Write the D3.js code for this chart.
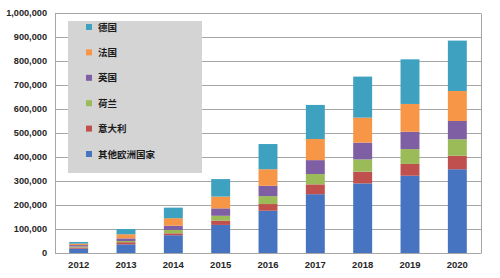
<!DOCTYPE html>
<html>
<head>
<meta charset="utf-8">
<script src="https://cdn.jsdelivr.net/npm/d3@7"></script>
<style>
  body { margin: 0; background: #fff; }
  svg text { font-family: "Liberation Sans", Arial, "Noto Sans CJK SC", sans-serif; }
</style>
</head>
<body>
<div id="container"></div>
<script>
"use strict";

const years = ["2012", "2013", "2014", "2015", "2016", "2017", "2018", "2019", "2020"];
const seriesNames = ["其他欧洲国家", "意大利", "荷兰", "英国", "法国", "德国"];
const seriesColors = ["#4674c1", "#c0504d", "#9bbb59", "#7f5fa4", "#f79646", "#3ea1c0"];

// values in thousands, bottom to top
const otherEurope = [18, 36, 74, 117, 176, 245, 290, 322, 349];
const italy = [5, 9, 8, 18, 28, 41, 49, 49, 56];
const netherlands = [4, 5, 14, 20, 33, 43, 51, 62, 69];
const uk = [6, 11, 18, 31, 43, 58, 70, 72, 76];
const france = [6, 17, 31, 49, 69, 88, 104, 116, 125];
const germany = [7, 22, 44, 73, 105, 142, 171, 186, 210];

const yTicks = [0, 100000, 200000, 300000, 400000, 500000, 600000, 700000, 800000, 900000, 1000000];

const width = 500;
const height = 278;
const margin = { top: 13, right: 19, bottom: 25, left: 55 };

const seriesValues = [otherEurope, italy, netherlands, uk, france, germany];

const rows = years.map((year, i) => {
  const row = { year };
  seriesNames.forEach((name, s) => { row[name] = seriesValues[s][i] * 1000; });
  return row;
});

const stacked = d3.stack().keys(seriesNames)(rows);

const svg = d3
  .select("#container")
  .append("svg")
  .attr("width", width)
  .attr("height", height);

const x = d3
  .scaleBand()
  .domain(years)
  .range([margin.left, width - margin.right])
  .paddingInner(0.6)
  .paddingOuter(0.3);

const y = d3
  .scaleLinear()
  .domain([0, 1000000])
  .range([height - margin.bottom, margin.top]);

// gridlines
svg
  .append("g")
  .selectAll("line")
  .data(yTicks)
  .enter()
  .append("line")
  .attr("x1", margin.left)
  .attr("x2", width - margin.right)
  .attr("y1", d => Math.round(y(d)) + 0.5)
  .attr("y2", d => Math.round(y(d)) + 0.5)
  .style("stroke", "#a6a6a6")
  .style("stroke-width", 1);

// frame sides
svg
  .append("g")
  .selectAll("line")
  .data([margin.left, width - margin.right])
  .enter()
  .append("line")
  .attr("x1", d => d + 0.5)
  .attr("x2", d => d + 0.5)
  .attr("y1", Math.round(y(1000000)) + 0.5)
  .attr("y2", Math.round(y(0)) + 0.5)
  .style("stroke", "#a6a6a6")
  .style("stroke-width", 1);

// bars
svg
  .append("g")
  .selectAll("g")
  .data(stacked)
  .enter()
  .append("g")
  .attr("fill", (d, i) => seriesColors[i])
  .selectAll("rect")
  .data(d => d)
  .enter()
  .append("rect")
  .attr("x", d => x(d.data.year))
  .attr("y", d => y(d[1]))
  .attr("width", x.bandwidth())
  .attr("height", d => y(d[0]) - y(d[1]));

// y axis labels
const yAxis = d3
  .axisLeft(y)
  .tickValues(yTicks)
  .tickSize(0)
  .tickPadding(8)
  .tickFormat(d3.format(","));

svg
  .append("g")
  .attr("transform", `translate(${margin.left}, 0)`)
  .call(yAxis)
  .call(g => g.select(".domain").remove())
  .selectAll("text")
  .style("font-size", "9.2px")
  .style("font-weight", "bold")
  .style("fill", "#262626");

// x axis labels
const xAxis = d3.axisBottom(x).tickSize(0).tickPadding(8);

svg
  .append("g")
  .attr("transform", `translate(0, ${height - margin.bottom})`)
  .call(xAxis)
  .call(g => g.select(".domain").remove())
  .selectAll("text")
  .style("font-size", "9.5px")
  .style("font-weight", "bold")
  .style("fill", "#262626");

// legend
const legend = svg.append("g");

legend
  .append("rect")
  .attr("x", 68)
  .attr("y", 21)
  .attr("width", 134)
  .attr("height", 152)
  .attr("fill", "#d4d4d4");

const legendOrder = seriesNames.map((name, i) => ({ name, color: seriesColors[i] })).reverse();
const legendY = d3.scalePoint().domain(legendOrder.map(d => d.name)).range([27, 154]);

const items = legend
  .selectAll(".item")
  .data(legendOrder)
  .enter()
  .append("g")
  .attr("class", "item")
  .attr("transform", d => `translate(0, ${legendY(d.name)})`);

items
  .append("rect")
  .attr("x", 86)
  .attr("y", -3)
  .attr("width", 6)
  .attr("height", 6)
  .attr("fill", d => d.color);

items
  .append("text")
  .attr("x", 98)
  .attr("y", 3.5)
  .style("font-family", "'Noto Sans CJK SC', sans-serif")
  .style("font-size", "9.5px")
  .style("font-weight", "bold")
  .style("fill", "#1a1a1a")
  .text(d => d.name);
</script>
</body>
</html>
